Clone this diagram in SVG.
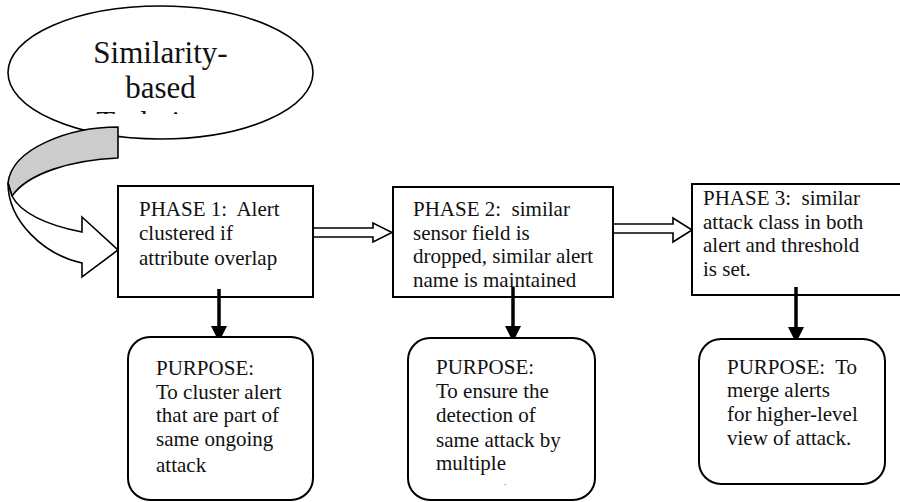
<svg xmlns="http://www.w3.org/2000/svg" width="900" height="502" viewBox="0 0 900 502">
<style>
  .t { font-family: 'Liberation Serif', 'DejaVu Serif', serif; font-size: 21px; fill: #111; }
  .big { font-family: 'Liberation Serif', 'DejaVu Serif', serif; font-size: 31px; fill: #111; text-anchor: middle; }
  .box { fill: #fff; stroke: #000; stroke-width: 2; }
  .hollow { fill: #fff; stroke: #000; stroke-width: 1.6; stroke-linejoin: miter; }
  .down { stroke: #000; stroke-width: 3.5; fill: none; }
</style>
<defs>
  <clipPath id="clipTech"><rect x="0" y="0" width="320" height="114"/></clipPath>
  <clipPath id="clipP2"><rect x="393" y="187" width="220" height="101.5"/></clipPath>
</defs>
<rect width="900" height="502" fill="#fff"/>

<g id="start">
  <ellipse cx="160.5" cy="72.5" rx="152.5" ry="66.5" fill="#fff" stroke="#000" stroke-width="1.6"/>
  <text class="big" font-family="Liberation Serif" x="160.5" y="63">Similarity-</text>
  <text class="big" font-family="Liberation Serif" x="160.5" y="98">based</text>
  <text class="big" font-family="Liberation Serif" x="160.5" y="133" clip-path="url(#clipTech)">Technique</text>
</g>

<g id="connectors">
  <g id="curved-arrow">
    <path d="M118,127 C70,127 12,148 8,183 L12,196 C28,173 72,160 118,158 Z" fill="#cccccc" stroke="#000" stroke-width="1.6" stroke-linejoin="round"/>
    <path d="M8,183 C8,222 45,255 82,263 L82,277 L118,250 L82,217 L82,232 C45,225 20,212 12,196 Z" fill="#fff" stroke="#000" stroke-width="1.6" stroke-linejoin="miter"/>
  </g>
  <path class="hollow" d="M313,228 L373,228 L373,223 L392,232.5 L373,242 L373,237 L313,237 Z"/>
  <path class="hollow" d="M613,224 L673,224 L673,218 L692,230 L673,242 L673,233 L613,233 Z"/>
</g>

<g id="phase1">
  <rect class="box" x="118" y="186" width="195" height="111"/>
  <text class="t" x="139" y="215.5" xml:space="preserve">PHASE 1:  Alert</text>
  <text class="t" x="139" y="240">clustered if</text>
  <text class="t" x="139" y="264.5">attribute overlap</text>
</g>

<g id="phase2">
  <rect class="box" x="393" y="187" width="220" height="110"/>
  <g clip-path="url(#clipP2)">
    <text class="t" x="413" y="216" xml:space="preserve">PHASE 2:  similar</text>
    <text class="t" x="413" y="239.5">sensor field is</text>
    <text class="t" x="413" y="263">dropped, similar alert</text>
    <text class="t" x="413" y="287">name is maintained</text>
  </g>
</g>

<g id="phase3">
  <rect class="box" x="692" y="184" width="212" height="111"/>
  <text class="t" x="703" y="205" xml:space="preserve">PHASE 3:  similar</text>
  <text class="t" x="703" y="228.5">attack class in both</text>
  <text class="t" x="703" y="252">alert and threshold</text>
  <text class="t" x="703" y="275.5">is set.</text>
</g>

<g id="down-arrows">
  <line class="down" x1="219" y1="289" x2="219" y2="328"/>
  <polygon points="211,326 227,326 219,342" fill="#000"/>
  <line class="down" x1="513" y1="287" x2="513" y2="328"/>
  <polygon points="505,326 521,326 513,342" fill="#000"/>
  <line class="down" x1="796" y1="287" x2="796" y2="328"/>
  <polygon points="788,327 804,327 796,343" fill="#000"/>
</g>

<g id="purpose1">
  <rect class="box" x="128" y="337" width="185" height="163" rx="22" ry="22"/>
  <text class="t" x="156" y="375">PURPOSE:</text>
  <text class="t" x="156" y="398.5">To cluster alert</text>
  <text class="t" x="156" y="422">that are part of</text>
  <text class="t" x="156" y="446">same ongoing</text>
  <text class="t" x="156" y="471.5">attack</text>
</g>

<g id="purpose2">
  <rect class="box" x="408" y="338" width="187" height="162" rx="22" ry="22"/>
  <text class="t" x="436" y="373.5">PURPOSE:</text>
  <text class="t" x="436" y="398">To ensure the</text>
  <text class="t" x="436" y="422">detection of</text>
  <text class="t" x="436" y="446.5">same attack by</text>
  <text class="t" x="436" y="470">multiple</text>
  <text class="t" x="504" y="485" style="font-size:9px">.</text>
</g>

<g id="purpose3">
  <rect class="box" x="699" y="339" width="186" height="145" rx="22" ry="22"/>
  <text class="t" x="727" y="373.5" xml:space="preserve">PURPOSE:  To</text>
  <text class="t" x="727" y="397">merge alerts</text>
  <text class="t" x="727" y="420.5">for higher-level</text>
  <text class="t" x="727" y="445">view of attack.</text>
</g>
</svg>
